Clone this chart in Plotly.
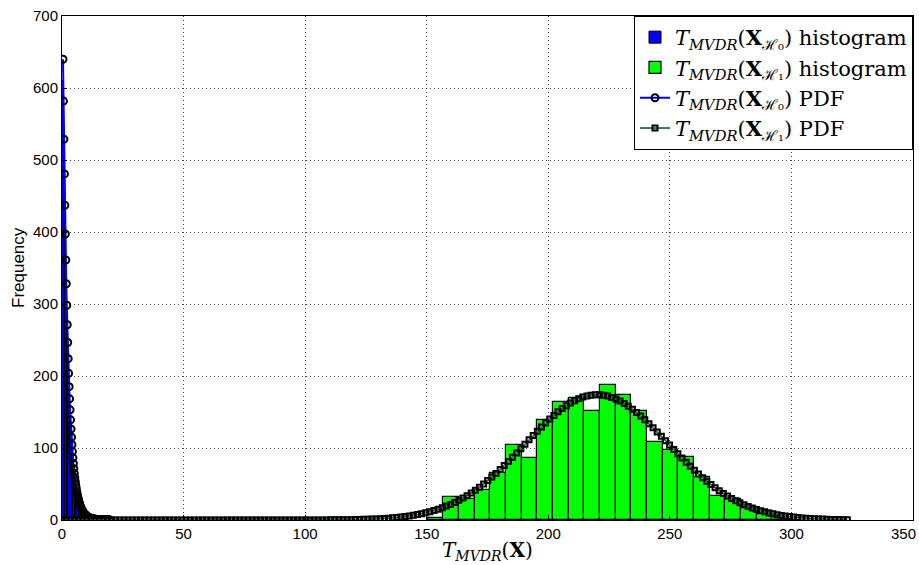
import plotly.graph_objects as go

# ---------------- data ----------------
# H0 histogram (bin centers, counts)
h0_bin_centers = [0.327, 0.980, 1.633, 2.286, 2.939, 3.592, 4.245, 4.898, 5.551, 6.204,
                  6.857, 7.510, 8.163, 8.816, 9.469, 10.122, 10.775, 11.428, 12.081, 12.734,
                  13.387, 14.040, 14.693, 15.346, 15.999, 16.652, 17.305, 17.958, 18.611, 19.264]
h0_counts = [610, 470, 345, 250, 185, 130, 99, 71, 52, 36,
             27, 19, 15, 10, 8, 5, 4, 3, 2, 2,
             1, 1, 0, 1, 0, 0, 0, 0, 0, 1]
h0_bin_width = 0.653

# H1 histogram
h1_bin_centers = [153.68, 160.12, 166.56, 173.00, 179.44, 185.88, 192.32, 198.76, 205.20, 211.64,
                  218.08, 224.52, 230.96, 237.40, 243.84, 250.28, 256.72, 263.16, 269.60, 276.04,
                  282.48, 288.92, 295.36]
h1_counts = [3, 32, 29, 42, 65, 104, 86, 139, 164, 169,
             152, 187, 174, 152, 109, 97, 88, 60, 33, 29,
             18, 12, 5]
h1_bin_width = 6.44

# H0 PDF
pdf0_x = [0.400, 0.595, 0.790, 0.985, 1.180, 1.375, 1.570, 1.765, 1.960, 2.155,
          2.350, 2.545, 2.740, 2.935, 3.130, 3.325, 3.520, 3.715, 3.910, 4.105,
          4.300, 4.495, 4.690, 4.885, 5.080, 5.275, 5.470, 5.665, 5.860, 6.055,
          6.250, 6.445, 6.640, 6.835, 7.030, 7.225, 7.420, 7.615, 7.810, 8.005,
          8.200, 8.395, 8.590, 8.785, 8.980, 9.175, 9.370, 9.565, 9.760, 9.955,
          10.150, 10.345, 10.540, 10.735, 10.930, 11.125, 11.320, 11.515, 11.710, 11.905,
          12.100, 12.295, 12.490, 12.685, 12.880, 13.075, 13.270, 13.465, 13.660, 13.855,
          14.050, 14.245, 14.440, 14.635, 14.830, 15.025, 15.220, 15.415, 15.610, 15.805,
          16.000, 16.195, 16.390, 16.585, 16.780, 16.975, 17.170, 17.365, 17.560, 17.755,
          17.950, 18.145, 18.340, 18.535, 18.730, 18.925, 19.120, 19.315, 19.510, 19.705]
pdf0_y = [640, 581.8, 528.8, 480.7, 437.0, 397.2, 361.1, 328.2, 298.3, 271.2,
          246.5, 224.1, 203.7, 185.2, 168.3, 153.0, 139.1, 126.4, 114.9, 104.5,
          95.0, 86.3, 78.5, 71.3, 64.8, 58.9, 53.6, 48.7, 44.3, 40.2,
          36.6, 33.2, 30.2, 27.5, 25.0, 22.7, 20.6, 18.8, 17.1, 15.5,
          14.1, 12.8, 11.6, 10.6, 9.6, 8.7, 7.96, 7.23, 6.57, 5.98,
          5.43, 4.94, 4.49, 4.08, 3.71, 3.37, 3.07, 2.79, 2.53, 2.30,
          2.09, 1.90, 1.73, 1.57, 1.43, 1.30, 1.18, 1.07, 0.98, 0.89,
          0.81, 0.73, 0.67, 0.61, 0.55, 0.50, 0.45, 0.41, 0.37, 0.34,
          0.31, 0.28, 0.26, 0.23, 0.21, 0.19, 0.17, 0.16, 0.15, 0.13,
          0.12, 0.11, 0.10, 0.09, 0.08, 0.075, 0.07, 0.06, 0.055, 0.05]

# H1 PDF
pdf1_x = [0.0, 1.7, 3.4, 5.1, 6.8, 8.5, 10.2, 11.9, 13.6, 15.3,
          17.0, 18.7, 20.4, 22.1, 23.8, 25.5, 27.2, 28.9, 30.6, 32.3,
          34.0, 35.7, 37.4, 39.1, 40.8, 42.5, 44.2, 45.9, 47.6, 49.3,
          51.0, 52.7, 54.4, 56.1, 57.8, 59.5, 61.2, 62.9, 64.6, 66.3,
          68.0, 69.7, 71.4, 73.1, 74.8, 76.5, 78.2, 79.9, 81.6, 83.3,
          85.0, 86.7, 88.4, 90.1, 91.8, 93.5, 95.2, 96.9, 98.6, 100.3,
          102.0, 103.7, 105.4, 107.1, 108.8, 110.5, 112.2, 113.9, 115.6, 117.3,
          119.0, 120.7, 122.4, 124.1, 125.8, 127.5, 129.2, 130.9, 132.6, 134.3,
          136.0, 137.7, 139.4, 141.1, 142.8, 144.5, 146.2, 147.9, 149.6, 151.3,
          153.0, 154.7, 156.4, 158.1, 159.8, 161.5, 163.2, 164.9, 166.6, 168.3,
          170.0, 171.7, 173.4, 175.1, 176.8, 178.5, 180.2, 181.9, 183.6, 185.3,
          187.0, 188.7, 190.4, 192.1, 193.8, 195.5, 197.2, 198.9, 200.6, 202.3,
          204.0, 205.7, 207.4, 209.1, 210.8, 212.5, 214.2, 215.9, 217.6, 219.3,
          221.0, 222.7, 224.4, 226.1, 227.8, 229.5, 231.2, 232.9, 234.6, 236.3,
          238.0, 239.7, 241.4, 243.1, 244.8, 246.5, 248.2, 249.9, 251.6, 253.3,
          255.0, 256.7, 258.4, 260.1, 261.8, 263.5, 265.2, 266.9, 268.6, 270.3,
          272.0, 273.7, 275.4, 277.1, 278.8, 280.5, 282.2, 283.9, 285.6, 287.3,
          289.0, 290.7, 292.4, 294.1, 295.8, 297.5, 299.2, 300.9, 302.6, 304.3,
          306.0, 307.7, 309.4, 311.1, 312.8, 314.5, 316.2, 317.9, 319.6, 321.3,
          323.0]
pdf1_y = [0, 0, 0, 0, 0, 0, 0, 0, 0, 0,
          0, 0, 0, 0, 0, 0, 0, 0, 0, 0,
          0, 0, 0, 0, 0, 0, 0, 0, 0, 0,
          0, 0, 0, 0, 0, 0, 0, 0, 0, 0,
          0, 0, 0, 0, 0, 0, 0, 0, 0, 0,
          0, 0, 0, 0, 0, 0, 0, 0, 0, 0.05,
          0.06, 0.07, 0.09, 0.11, 0.14, 0.18, 0.22, 0.27, 0.33, 0.41,
          0.50, 0.60, 0.73, 0.88, 1.06, 1.28, 1.53, 1.82, 2.16, 2.56,
          3.02, 3.55, 4.16, 4.86, 5.67, 6.58, 7.62, 8.79, 10.1, 11.6,
          13.2, 15.0, 17.0, 19.3, 21.7, 24.4, 27.3, 30.4, 33.8, 37.5,
          41.4, 45.6, 50.0, 54.7, 59.6, 64.7, 70.0, 75.6, 81.3, 87.1,
          93.1, 99.1, 105.2, 111.3, 117.3, 123.2, 129.1, 134.7, 140.2, 145.3,
          150.2, 154.7, 158.8, 162.5, 165.7, 168.5, 170.7, 172.3, 173.4, 174.0,
          173.9, 173.3, 172.1, 170.3, 168.0, 165.2, 161.9, 158.1, 153.9, 149.4,
          144.4, 139.2, 133.7, 128.1, 122.2, 116.2, 110.2, 104.1, 98.0, 92.0,
          86.1, 80.2, 74.6, 69.1, 63.8, 58.7, 53.8, 49.2, 44.8, 40.7,
          36.8, 33.2, 29.8, 26.7, 23.9, 21.2, 18.8, 16.7, 14.7, 12.9,
          11.3, 9.85, 8.56, 7.43, 6.41, 5.52, 4.73, 4.05, 3.45, 2.93,
          2.48, 2.10, 1.76, 1.48, 1.24, 1.03, 0.85, 0.71, 0.58, 0.48,
          0.39]

x_ticks = [0, 50, 100, 150, 200, 250, 300, 350]
y_ticks = [0, 100, 200, 300, 400, 500, 600, 700]

# ---------------- labels ----------------
T = "<i>T</i><sub><i>MVDR</i></sub>"
name_h0_hist = T + "(<b>X</b><sub>ℋ₀</sub>) histogram"
name_h1_hist = T + "(<b>X</b><sub>ℋ₁</sub>) histogram"
name_h0_pdf = T + "(<b>X</b><sub>ℋ₀</sub>) PDF"
name_h1_pdf = T + "(<b>X</b><sub>ℋ₁</sub>) PDF"

fig = go.Figure()
fig.add_trace(go.Bar(x=h0_bin_centers, y=h0_counts, width=h0_bin_width,
                     marker=dict(color="#0000ff", line=dict(color="black", width=1)),
                     name=name_h0_hist))
fig.add_trace(go.Bar(x=h1_bin_centers, y=h1_counts, width=h1_bin_width,
                     marker=dict(color="#00ff00", line=dict(color="black", width=1.2)),
                     name=name_h1_hist))
fig.add_trace(go.Scatter(x=pdf0_x, y=pdf0_y, mode="lines+markers",
                         line=dict(color="#0000ff", width=2),
                         marker=dict(symbol="circle-open", size=7, color="black",
                                     line=dict(width=2, color="black")),
                         name=name_h0_pdf))
fig.add_trace(go.Scatter(x=pdf1_x, y=pdf1_y, mode="lines+markers",
                         line=dict(color="#2e7d5b", width=2),
                         marker=dict(symbol="square-open", size=5, color="black",
                                     line=dict(width=2, color="black")),
                         name=name_h1_pdf))

serif = "DejaVu Serif, Liberation Serif, serif"
axis_font = dict(family="Liberation Sans, Arial, sans-serif", size=15, color="black")
grid_style = dict(showgrid=True, gridcolor="rgba(0,0,0,0.75)", griddash="1px,3px", gridwidth=1)
fig.update_layout(
    width=919, height=565,
    margin=dict(l=62, r=6, t=16, b=45, autoexpand=False),
    plot_bgcolor="white", paper_bgcolor="white",
    barmode="overlay", bargap=0,
    showlegend=True,
    legend=dict(x=1, y=1, xanchor="right", yanchor="top",
                bgcolor="white", bordercolor="black", borderwidth=1,
                font=dict(family=serif, size=21, color="black"),
                tracegroupgap=0, itemwidth=30),
    xaxis=dict(range=[0, 350], tickvals=x_ticks[:-1], ticktext=[str(v) for v in x_ticks[:-1]],
               showline=True, linecolor="black", linewidth=1, mirror=True,
               ticks="inside", ticklen=5, tickcolor="black", automargin=False,
               zeroline=False, tickfont=axis_font, **grid_style),
    yaxis=dict(range=[0, 700], tickvals=y_ticks,
               showline=True, linecolor="black", linewidth=1, mirror=True,
               ticks="inside", ticklen=5, tickcolor="black", automargin=False,
               zeroline=False, tickfont=axis_font, **grid_style),
)
fig.add_annotation(x=350, y=0, xref="x", yref="y", text=str(x_ticks[-1]), showarrow=False,
                   xanchor="right", yanchor="top", xshift=5, yshift=-3, font=axis_font)
fig.add_annotation(x=0.5, y=0, xref="paper", yref="paper", text=T + "(<b>X</b>)", showarrow=False,
                   xanchor="center", yanchor="top", yshift=-16,
                   font=dict(family=serif, size=20, color="black"))
fig.add_annotation(x=0, y=0.5, xref="paper", yref="paper", text="Frequency", showarrow=False,
                   textangle=-90, xanchor="center", yanchor="middle", xshift=-44,
                   font=dict(family="Liberation Sans, Arial, sans-serif", size=17, color="black"))

fig.write_html("out.html", config={"displayModeBar": False},
               post_script="document.body.style.margin='0';")
